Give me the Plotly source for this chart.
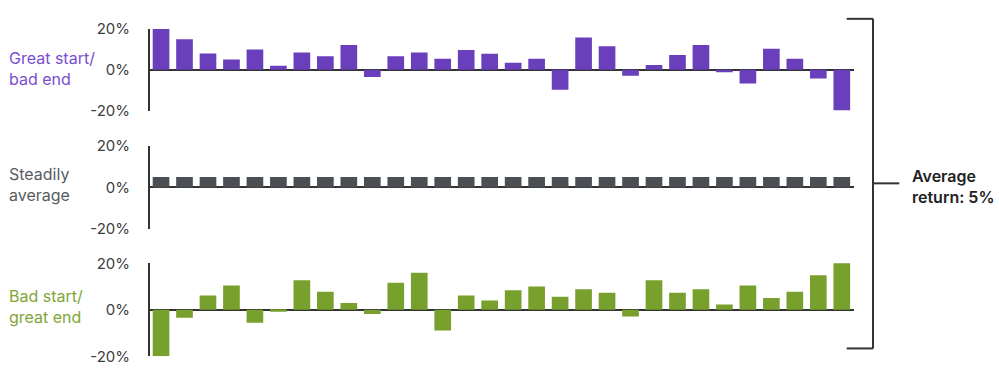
import plotly.graph_objects as go

# Annual returns (%) for three 30-year paths that all average about 5%
years = list(range(1, 31))

great_start_bad_end = [20, 15, 8, 5, 10, 2, 8.5, 6.6, 12.2, -3.5,
                       6.6, 8.5, 5.4, 9.7, 7.8, 3.5, 5.4, -9.8, 15.8, 11.5,
                       -2.9, 2.3, 7.2, 12.2, -1.2, -6.7, 10.3, 5.4, -4.3, -20]

steadily_average = [5] * 30

bad_start_great_end = [-20, -3.4, 6.2, 10.5, -5.6, -0.8, 12.7, 7.8, 2.9, -1.8,
                       11.6, 16, -8.9, 6.2, 4.0, 8.4, 10, 5.6, 8.9, 7.3,
                       -2.9, 12.7, 7.3, 8.9, 2.3, 10.5, 5.1, 7.8, 14.9, 20.4]

panel_names = ["Great start/<br>bad end", "Steadily<br>average", "Bad start/<br>great end"]
tick_vals = [-20, 0, 20]
tick_text = ["-20%", "0%", "20%"]

W, H = 999, 371
FONT = "Inter"
AXIS_COLOR = "#333333"

bar_colors = ["#6a3fbb", "#4b4e53", "#78a02c"]
label_colors = ["#7a4ed0", "#585c61", "#80a636"]

# vertical pixel extents (top, bottom) of each panel, and label centres
panel_px = [(20, 106), (143.5, 230.5), (267, 365)]
label_px = [61.5, 184, 312]
x_px = (150, 854)

def px_x(x):
    return x / W

def px_y(y):
    return 1 - y / H

fig = go.Figure()
series = [great_start_bad_end, steadily_average, bad_start_great_end]

for i, vals in enumerate(series):
    suffix = "" if i == 0 else str(i + 1)
    fig.add_trace(go.Bar(
        x=years, y=vals,
        marker=dict(color=bar_colors[i], line=dict(width=0)),
        xaxis="x" + suffix, yaxis="y" + suffix,
        showlegend=False, hoverinfo="skip",
    ))
    top, bottom = panel_px[i]
    fig.layout["xaxis" + suffix] = dict(
        domain=[px_x(x_px[0]), px_x(x_px[1])],
        range=[0.53, 30.52],
        anchor="y" + suffix,
        showticklabels=False, showgrid=False, zeroline=False,
        showline=False, ticks="",
    )
    fig.layout["yaxis" + suffix] = dict(
        domain=[px_y(bottom), px_y(top)],
        range=[-20, 20],
        anchor="x" + suffix,
        tickvals=tick_vals, ticktext=tick_text,
        tickfont=dict(family=FONT, size=15, color="#3d3d3d"),
        ticks="", ticklabelstandoff=15,
        showgrid=False,
        showline=True, linecolor=AXIS_COLOR, linewidth=2,
        zeroline=True, zerolinecolor=AXIS_COLOR, zerolinewidth=2,
    )
    # series label on the far left
    fig.add_annotation(
        x=px_x(7), y=px_y(label_px[i]),
        xref="paper", yref="paper",
        xanchor="left", yanchor="middle", align="left",
        text=panel_names[i], showarrow=False,
        font=dict(family=FONT, size=16, color=label_colors[i]),
    )

# bracket grouping the three panels
bx, bl = 873, 846.7
btop, bbot, bmid = 9.3, 356.7, 182.7
for (x0, y0, x1, y1) in [(bl, btop, bx, btop), (bx, btop, bx, bbot),
                         (bl, bbot, bx, bbot), (bx, bmid, 899.3, bmid)]:
    fig.add_shape(type="line", xref="paper", yref="paper",
                  x0=px_x(x0), y0=px_y(y0), x1=px_x(x1), y1=px_y(y1),
                  line=dict(color=AXIS_COLOR, width=2))

fig.add_annotation(
    x=px_x(910), y=px_y(185.5), xref="paper", yref="paper",
    xanchor="left", yanchor="middle", align="left",
    text="Average<br>return: 5%", showarrow=False,
    font=dict(family=FONT, size=16, color="#222222", weight=600),
)

fig.update_layout(
    width=W, height=H,
    margin=dict(l=0, r=0, t=0, b=0),
    paper_bgcolor="white", plot_bgcolor="white",
    bargap=0.29,
)

fig.write_html("out.html")
